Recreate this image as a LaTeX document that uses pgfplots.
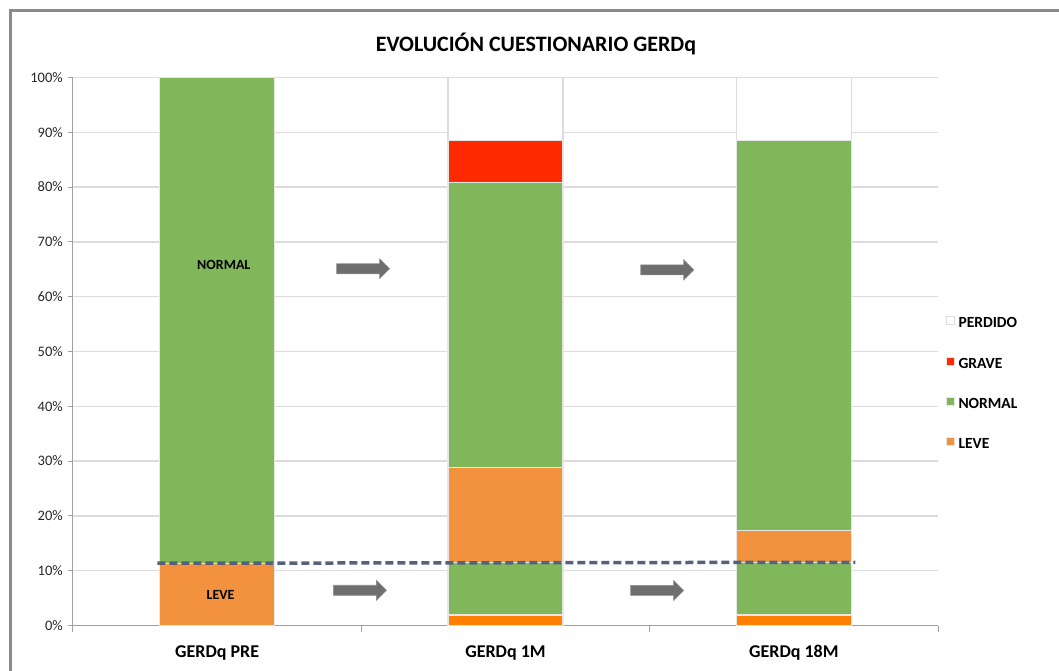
\documentclass[border=0pt]{standalone}
\usepackage{fontspec}
\setmainfont{Carlito}
\usepackage{pgfplots}
\pgfplotsset{compat=1.18}

\definecolor{greenc}{HTML}{80B75A}
\definecolor{leveorange}{HTML}{F3923E}
\definecolor{darkorange}{HTML}{FF7F00}
\definecolor{gravered}{HTML}{FF2A00}
\definecolor{gridgray}{HTML}{DCDCDC}
\definecolor{axisgray}{HTML}{A0A0A0}
\definecolor{barline}{HTML}{E6E6E6}
\definecolor{dashcol}{HTML}{56627A}
\definecolor{arrowgray}{HTML}{6E6E6E}
\definecolor{arrowedge}{HTML}{8C8C8C}
\definecolor{framegray}{HTML}{8A8A8A}

\tikzset{
  blockarrow/.style={fill=arrowgray, draw=arrowedge, line width=0.6pt},
}
\newcommand{\blockarrow}[2]{%
  \filldraw[blockarrow] (axis cs:#1,#2) ++(-26.5pt,-5pt) -- ++(43pt,0pt) -- ++(0pt,-5pt)
    -- ++(10pt,10pt) -- ++(-10pt,10pt) -- ++(0pt,-5pt) -- ++(-43pt,0pt) -- cycle;}

\begin{document}
\begin{tikzpicture}[x=1pt,y=1pt]
\useasboundingbox (0,0) rectangle (1059,670);
% chart area border
\draw[line width=3pt, framegray] (10.5,-5) -- (10.5,659.5) -- (1065,659.5);

\begin{axis}[
  at={(73pt,44.5pt)}, anchor=south west,
  scale only axis, width=865pt, height=548pt,
  xmin=-0.5, xmax=2.5, ymin=0, ymax=100,
  ybar stacked, bar width=115pt,
  axis x line*=bottom, axis y line*=left,
  axis line style={draw=axisgray, line width=1pt, -},
  tick align=outside,
  ytick={0,10,...,100},
  yticklabel={\pgfmathtruncatemacro{\tv}{\tick}\tv\%},
  yticklabel style={font=\fontsize{14.5}{16}\selectfont, color=black!85, inner xsep=0pt, xshift=-5pt},
  y tick style={draw=axisgray, line width=1pt},
  major tick length=5pt,
  xtick={0,1,2},
  xticklabels={GERDq PRE, GERDq 1M, GERDq 18M},
  xticklabel style={font=\fontsize{18}{20}\selectfont\bfseries, anchor=base, yshift=-27pt},
  x tick style={draw=none},
  minor xtick={-0.5,0.5,1.5,2.5},
  minor x tick style={draw=axisgray, line width=1pt},
  minor tick length=6pt,
  ymajorgrids,
  grid style={draw=gridgray, line width=1.5pt},
  every axis plot/.append style={draw=barline, line width=1.2pt},
]
% stacked segments, bottom to top
\addplot[fill=darkorange]  coordinates {(0,0) (1,1.92) (2,1.92)};
\addplot[fill=greenc]      coordinates {(0,0) (1,9.62) (2,9.62)};
\addplot[fill=leveorange]  coordinates {(0,11.32) (1,17.31) (2,5.77)};   % LEVE
\addplot[fill=greenc]      coordinates {(0,88.68) (1,51.92) (2,71.15)};  % NORMAL
\addplot[fill=gravered]    coordinates {(0,0) (1,7.69) (2,0)};           % GRAVE
\addplot[fill=white, draw=gridgray] coordinates {(0,0) (1,11.54) (2,11.54)}; % PERDIDO
\end{axis}

% overlay: reference line, arrows and segment labels
\begin{axis}[
  at={(73pt,44.5pt)}, anchor=south west,
  scale only axis, width=865pt, height=548pt,
  xmin=-0.5, xmax=2.5, ymin=0, ymax=100,
  hide axis, clip=false,
]
\addplot[dashcol, line width=3.5pt, dash pattern=on 8pt off 4pt] coordinates {(-0.207,11.36) (2.2135,11.54)};
\blockarrow{0.506}{65.1}
\blockarrow{1.561}{64.9}
\blockarrow{0.495}{6.43}
\blockarrow{1.526}{6.4}
\node[font=\fontsize{14}{16}\selectfont\bfseries, anchor=base, inner sep=0pt] at (axis cs:0.023,64.9) {NORMAL};
\node[font=\fontsize{14}{16}\selectfont\bfseries, anchor=base, inner sep=0pt] at (axis cs:0.012,4.66) {LEVE};
\end{axis}

% title
\node[font=\fontsize{22}{26}\selectfont\bfseries, anchor=base] at (536,618.3) {EVOLUCIÓN CUESTIONARIO GERDq};

% legend
\begin{scope}[font=\fontsize{15.5}{18}\selectfont\bfseries]
  \draw[draw=gridgray, fill=white, line width=0.8pt] (946,345.3) rectangle (954,353.3);
  \node[anchor=base west, inner sep=0pt] at (958.3,342.7) {PERDIDO};
  \draw[draw=barline, fill=gravered, line width=0.8pt] (946,304.3) rectangle (954,312.3);
  \node[anchor=base west, inner sep=0pt] at (958.3,301.7) {GRAVE};
  \draw[draw=barline, fill=greenc, line width=0.8pt] (946,264.3) rectangle (954,272.3);
  \node[anchor=base west, inner sep=0pt] at (958.3,261.7) {NORMAL};
  \draw[draw=barline, fill=leveorange, line width=0.8pt] (946,224.3) rectangle (954,232.3);
  \node[anchor=base west, inner sep=0pt] at (958.3,221.7) {LEVE};
\end{scope}
\end{tikzpicture}
\end{document}
